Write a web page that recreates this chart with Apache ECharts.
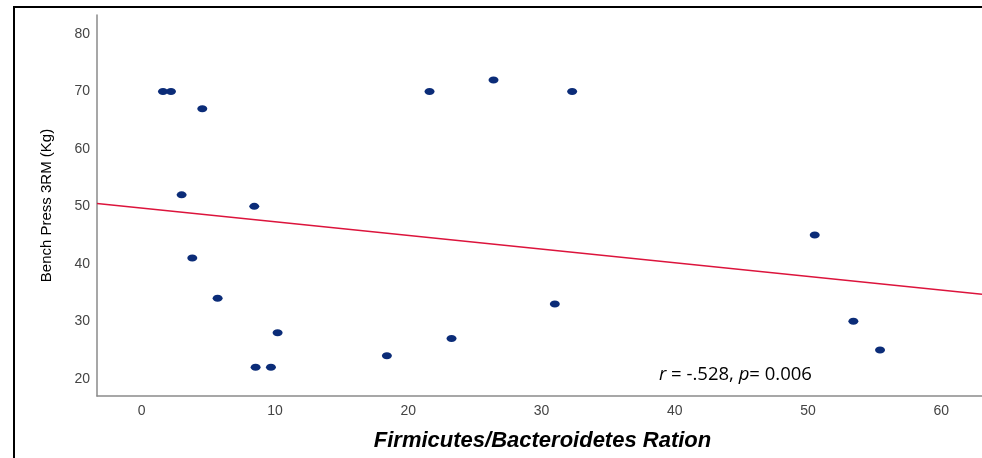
<!DOCTYPE html>
<html>
<head>
<meta charset="utf-8">
<script src="https://cdn.jsdelivr.net/npm/echarts@6/dist/echarts.min.js"></script>
<style>
	html, body { margin: 0; padding: 0; background: #fff; }
	#main { width: 982px; height: 458px; }
</style>
</head>
<body>
<div id="main"></div>
<script>
// 数据：Firmicutes/Bacteroidetes 比值 与 卧推 3RM
const fbRatio = [1.6, 2.2, 4.55, 3.0, 8.45, 3.8, 5.7, 10.2, 8.55, 9.7, 18.4, 21.6, 26.4, 32.3, 23.25, 31.0, 50.5, 53.4, 55.4];
const benchPress = [70, 70, 67, 52, 50, 41, 34, 28, 22, 22, 24, 70, 72, 70, 27, 33, 45, 30, 25];
// 拟合线两端
const fitX = [-3.35, 63.05];
const fitY = [50.5, 34.7];

(function() {
	let myChart = echarts.init(document.getElementById('main'));

	let points = fbRatio.map(function(x, i) { return [x, benchPress[i]]; });
	let fitLine = fitX.map(function(x, i) { return [x, fitY[i]]; });

	let option = {
		animation: false,
		grid: {
			left: 97,
			top: 15,
			right: 0,
			bottom: 62
		},
		xAxis: {
			type: 'value',
			min: -3.35,
			max: 63.05,
			minInterval: 10,
			maxInterval: 10,
			name: 'Firmicutes/Bacteroidetes Ration',
			nameLocation: 'middle',
			nameGap: 34,
			nameTextStyle: {
				color: '#000',
				fontFamily: 'Liberation Sans',
				fontSize: 22,
				fontWeight: 'bold',
				fontStyle: 'italic',
				padding: [0, 0, 0, 6]
			},
			axisLine: {
				show: true,
				onZero: false,
				lineStyle: { color: '#8a8a8a', width: 1.5 }
			},
			axisTick: { show: false },
			splitLine: { show: false },
			axisLabel: {
				showMinLabel: false,
				showMaxLabel: false,
				margin: 8,
				color: '#444',
				fontFamily: 'Liberation Sans',
				fontSize: 14
			}
		},
		yAxis: {
			type: 'value',
			min: 17,
			max: 83.3,
			minInterval: 10,
			maxInterval: 10,
			name: 'Bench Press 3RM (Kg)',
			nameLocation: 'middle',
			nameGap: 43,
			nameRotate: 90,
			nameTextStyle: {
				color: '#000',
				fontFamily: 'Liberation Sans',
				fontSize: 15
			},
			axisLine: {
				show: true,
				onZero: false,
				lineStyle: { color: '#8a8a8a', width: 1.5 }
			},
			axisTick: { show: false },
			splitLine: { show: false },
			axisLabel: {
				showMinLabel: false,
				showMaxLabel: false,
				margin: 7,
				color: '#444',
				fontFamily: 'Liberation Sans',
				fontSize: 14
			}
		},
		graphic: [
			{
				type: 'polyline',
				shape: { points: [[14, 458], [14, 7], [982, 7]] },
				style: { stroke: '#000', lineWidth: 2, fill: null },
				silent: true
			},
			{
				type: 'text',
				left: 659,
				top: 365,
				style: {
					text: '{i|r} = -.528, {i|p}= 0.006',
					fill: '#000',
					font: '18.5px "Open Sans"',
					rich: {
						i: { fontStyle: 'italic', fontFamily: 'Open Sans', fontSize: 18.5, fill: '#000' }
					}
				}
			}
		],
		series: [
			{
				name: 'fit',
				type: 'line',
				data: fitLine,
				symbol: 'none',
				lineStyle: { color: '#dc143c', width: 1.5 },
				z: 2
			},
			{
				name: 'Bench Press',
				type: 'scatter',
				data: points,
				symbol: 'circle',
				symbolSize: [10, 7],
				itemStyle: { color: '#0b2c78', opacity: 1 },
				z: 3
			}
		]
	};

	myChart.setOption(option);

	window.addEventListener('resize', function() {
		myChart.resize();
	});
})();
</script>
</body>
</html>
